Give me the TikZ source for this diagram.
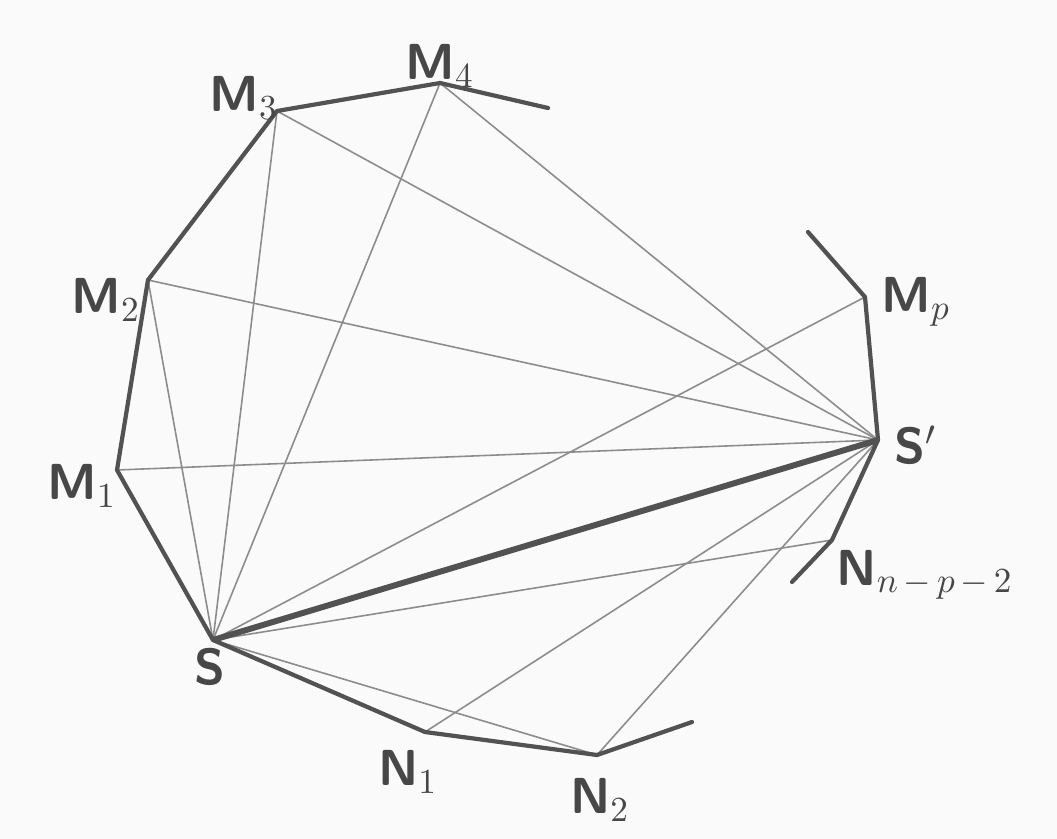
\documentclass[tikz,border=0pt]{standalone}
\usepackage{amsmath}
\usepackage{tikz}
\tikzset{
    side/.style={line width=1.2pt, draw=black!68, line cap=round, line join=round},
    chord/.style={line width=0.45pt, draw=black!45},
    mainchord/.style={line width=1.7pt, draw=black!68},
    vlabel/.style={font=\sffamily\bfseries\Large, text=black!72, inner sep=0pt}
}

\begin{document}
\begin{tikzpicture}[x=0.01cm, y=-0.01cm]
            \fill[black!2] (0,0) rectangle (1057,839);
            \useasboundingbox (0,0) rectangle (1057,839);

            % upper chain M_1 ... M_4
            \coordinate (m1) at (117,470);
            \coordinate (m2) at (148,280);
            \coordinate (m3) at (277,111);
            \coordinate (m4) at (440,83);
            \coordinate (m4e) at (548,108);

            % right side
            \coordinate (mpe) at (808,232);
            \coordinate (mp) at (865,297);
            \coordinate (sp) at (878,440);
            \coordinate (nq) at (832,540);
            \coordinate (nqe) at (792,582);

            % lower chain
            \coordinate (s) at (213,640);
            \coordinate (n1) at (425,732);
            \coordinate (n2) at (597,755);
            \coordinate (n2e) at (692,722);

            % chords
            \foreach \v in {m2,m3,m4,mp,nq,n2}
                \draw[chord] (s) -- (\v);
            \foreach \v in {m1,m2,m3,m4,n1,n2}
                \draw[chord] (sp) -- (\v);
            \draw[mainchord] (s) -- (sp);

            % sides
            \draw[side] (m4e) -- (m4) -- (m3) -- (m2) -- (m1) -- (s) -- (n1) -- (n2) -- (n2e);
            \draw[side] (mpe) -- (mp) -- (sp) -- (nq) -- (nqe);

            % labels
            \node[vlabel] (lm1) at (82,486) {M$_1$};
            \node[vlabel] (lm2) at (106,300) {M$_2$};
            \node[vlabel] (lm3) at (244,98) {M$_3$};
            \node[vlabel] (lm4) at (440,66) {M$_4$};
            \node[vlabel] (lmp) at (916,302) {M$_p$};
            \node[vlabel] (lsp) at (916,445) {S$'$};
            \node[vlabel, anchor=west] (lnq) at (836,575) {N$_{n\,-\,p\,-\,2}$};
            \node[vlabel] (ls) at (210,667) {S};
            \node[vlabel] (ln1) at (408,772) {N$_1$};
            \node[vlabel] (ln2) at (600,800) {N$_2$};
        \end{tikzpicture}
\end{document}
